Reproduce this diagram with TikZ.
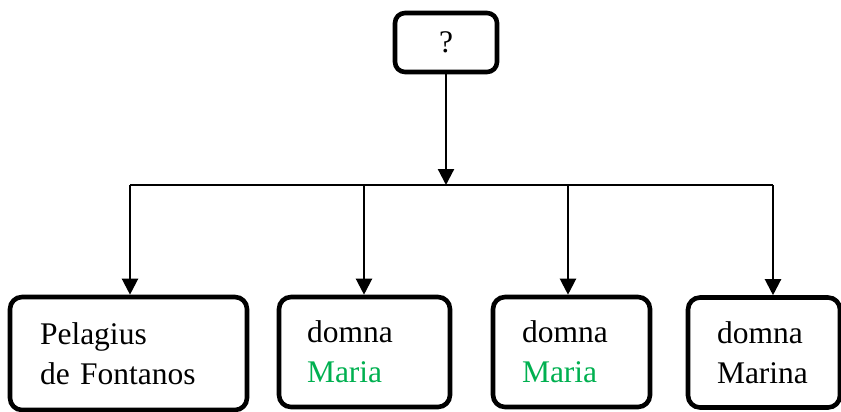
\documentclass[tikz,border=0pt]{standalone}
\usepackage{fontspec}
\setmainfont{Liberation Serif}
\newfontfamily\kinfont{Liberation Serif}
\usepackage{xcolor}
\definecolor{kingreen}{RGB}{0,176,80}
\usetikzlibrary{arrows.meta,positioning}

\begin{document}
\begin{tikzpicture}[x=0.5pt, y=-0.5pt,
  person/.style={draw, line width=2.3pt, rounded corners=6pt, align=left, font=\kinfont\fontsize{15.75}{20}\selectfont, inner ysep=0pt},
  link/.style={line width=1.1pt, -{Triangle[width=8pt,length=8pt]}}]
  \useasboundingbox (0,0) rectangle (841,412);

  % Unknown parent
  \node[draw, line width=2.3pt, rounded corners=5pt, minimum width=51pt, minimum height=29.5pt, font=\kinfont\fontsize{15.75}{20}\selectfont] (parent) at (446,42.5) {?};

  % Children
  \node[person, text width=88.5pt, inner xsep=15pt, minimum height=56.5pt] (kid1) at (128.5,353.5) {Pelagius\\de Fontanos};
  \node[person, text width=57.5pt, inner xsep=14pt, minimum height=55pt] (kid2) at (364.5,352) {domna\\\textcolor{kingreen}{Maria}};
  \node[person, text width=49.5pt, inner xsep=14.5pt, minimum height=55pt] (kid3) at (571.5,352) {domna\\\textcolor{kingreen}{Maria}};
  \node[person, text width=47pt, inner xsep=14.5pt, minimum height=55pt] (kid4) at (764,352.5) {domna\\Marina};

  % Sibling bar
  \coordinate (bar1) at (130,185);
  \coordinate (bar2) at (364,185);
  \coordinate (bar3) at (568,185);
  \coordinate (bar4) at (773,185);
  \coordinate (barmid) at (446,185);
  \draw[line width=0.8pt] (bar1) -- (bar4);

  % Descent arrows
  \draw[link] (parent) -- (barmid);
  \draw[link] (bar1) -- (bar1 |- kid1.north);
  \draw[link] (bar2) -- (bar2 |- kid2.north);
  \draw[link] (bar3) -- (bar3 |- kid3.north);
  \draw[link] (bar4) -- (bar4 |- kid4.north);
\end{tikzpicture}
\end{document}
